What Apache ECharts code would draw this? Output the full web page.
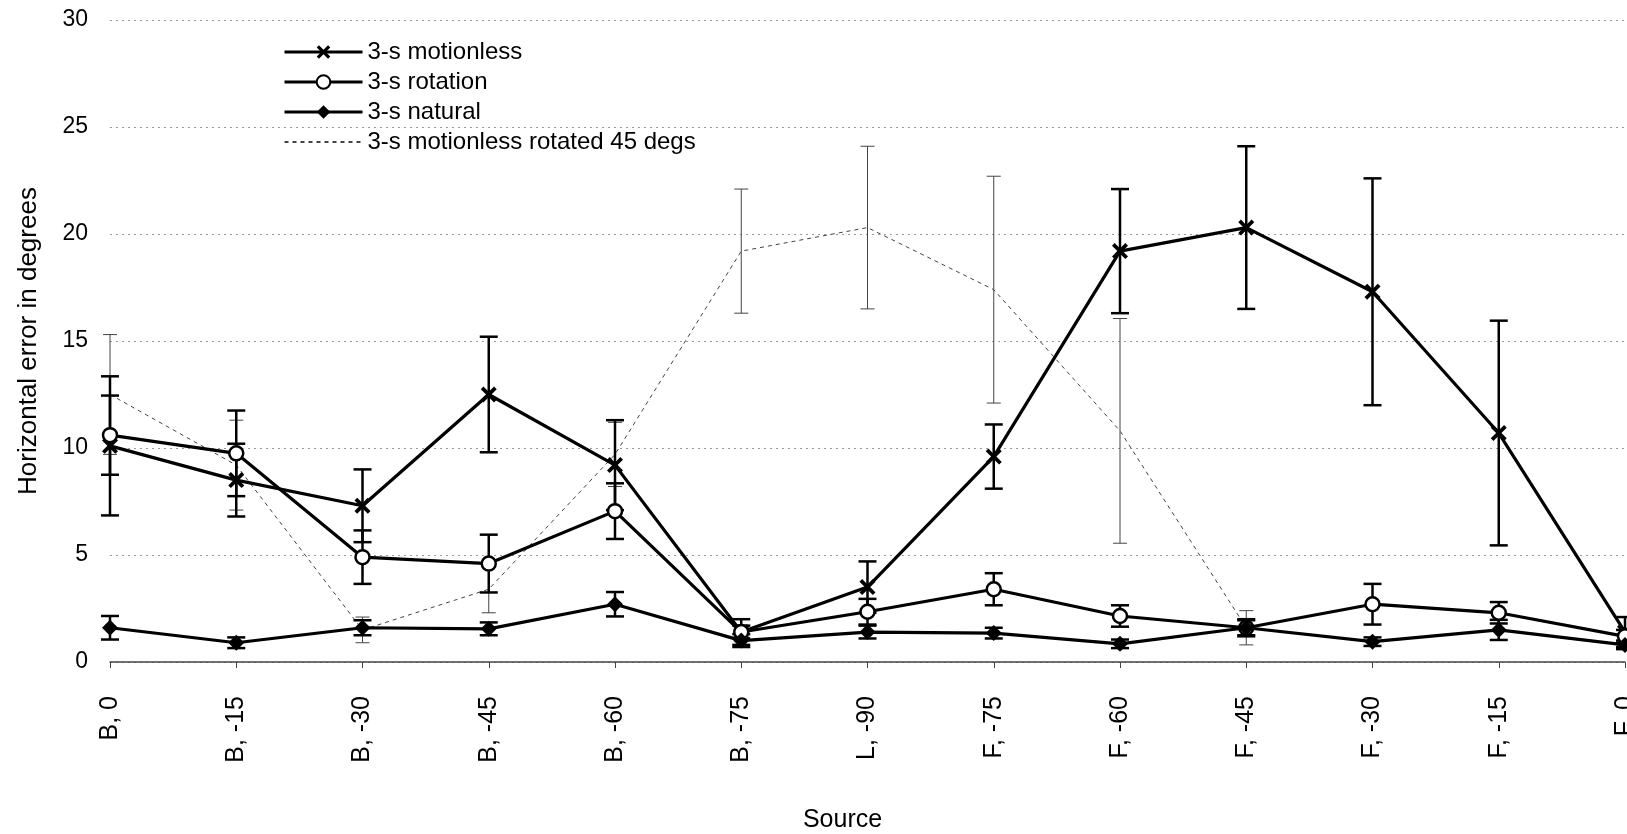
<!DOCTYPE html>
<html>
<head>
<meta charset="utf-8">
<script src="https://cdn.jsdelivr.net/npm/echarts@6/dist/echarts.min.js"></script>
<style>
  html, body { margin: 0; padding: 0; background: #fff; }
  #chart { width: 1627px; height: 834px; }
</style>
</head>
<body>
<div id="chart"></div>
<script>
// Source positions (back, lateral, front) and mean horizontal error per condition
const categories = ['B, 0', 'B, -15', 'B, -30', 'B, -45', 'B, -60', 'B, -75', 'L, -90',
                    'F, -75', 'F, -60', 'F, -45', 'F, -30', 'F, -15', 'F, 0'];

const motionless      = [10.1, 8.5, 7.3, 12.5, 9.2, 1.4, 3.5, 9.6, 19.2, 20.3, 17.3, 10.7, 1.4];
const motionlessErr   = [3.25, 1.7, 1.7, 2.7, 2.1, 0.6, 1.2, 1.5, 2.9, 3.8, 5.3, 5.25, 0.7];

const rotation        = [10.6, 9.75, 4.9, 4.6, 7.05, 1.4, 2.35, 3.4, 2.15, 1.6, 2.7, 2.3, 1.2];
const rotationErr     = [1.85, 2.0, 1.25, 1.35, 1.3, 0.3, 0.6, 0.75, 0.5, 0.4, 0.95, 0.5, 0.3];

const natural         = [1.6, 0.9, 1.6, 1.55, 2.7, 1.0, 1.4, 1.35, 0.85, 1.6, 0.95, 1.5, 0.8];
const naturalErr      = [0.55, 0.25, 0.35, 0.3, 0.57, 0.3, 0.3, 0.25, 0.2, 0.35, 0.2, 0.47, 0.2];

const rotated45       = [12.5, 9.2, 1.5, 3.4, 9.7, 19.2, 20.3, 17.4, 10.8, 1.6, null, null, null];
const rotated45Err    = [2.8, 2.1, 0.6, 1.1, 1.5, 2.9, 3.8, 5.3, 5.25, 0.8, null, null, null];

const yTicks = { min: 0, max: 30, interval: 5 };

const FONT = '"Liberation Sans", Arial, sans-serif';
const X_SYMBOL = 'path://M0,2 L2,0 L6,4 L10,0 L12,2 L8,6 L12,10 L10,12 L6,8 L2,12 L0,10 L4,6 Z';

function errorBars(id, values, errs, lineWidth, color, capHalf) {
  const data = [];
  values.forEach((v, i) => {
    if (v != null && errs[i] != null) data.push([i, v, errs[i]]);
  });
  return {
    id: id,
    type: 'custom',
    z: 3,
    silent: true,
    encode: { x: 0, y: 1 },
    data: data,
    renderItem: function (params, api) {
      const i = api.value(0), v = api.value(1), e = api.value(2);
      const hi = api.coord([i, v + e]);
      const lo = api.coord([i, v - e]);
      const style = { stroke: color, lineWidth: lineWidth };
      return {
        type: 'group',
        children: [
          { type: 'line', shape: { x1: hi[0], y1: hi[1], x2: lo[0], y2: lo[1] }, style: style },
          { type: 'line', shape: { x1: hi[0] - capHalf, y1: hi[1], x2: hi[0] + capHalf, y2: hi[1] }, style: style },
          { type: 'line', shape: { x1: lo[0] - capHalf, y1: lo[1], x2: lo[0] + capHalf, y2: lo[1] }, style: style }
        ]
      };
    }
  };
}

const chart = echarts.init(document.getElementById('chart'), null, { renderer: 'canvas' });

chart.setOption({
  backgroundColor: '#fff',
  animation: false,
  grid: { left: 110, right: 2, top: 20, bottom: 172, containLabel: false, outerBoundsMode: 'none' },
  legend: {
    orient: 'vertical',
    left: 278,
    top: 35,
    itemWidth: 78,
    itemHeight: 17,
    itemGap: 6,
    selectedMode: false,
    textStyle: { fontFamily: FONT, fontSize: 24, color: '#000' },
    data: [
      { name: '3-s motionless', lineStyle: { width: 3 } },
      { name: '3-s rotation', lineStyle: { width: 3 } },
      { name: '3-s natural', lineStyle: { width: 3 } },
      { name: '3-s motionless rotated 45 degs' }
    ]
  },
  xAxis: {
    type: 'category',
    data: categories,
    boundaryGap: false,
    name: 'Source',
    nameLocation: 'middle',
    nameGap: 146,
    nameTextStyle: { fontFamily: FONT, fontSize: 25, color: '#000', padding: [0, 50, 0, 0] },
    axisLine: { show: true, lineStyle: { color: '#444', width: 1.5 } },
    axisTick: { show: true, alignWithLabel: true, length: 6, lineStyle: { color: '#444' } },
    axisLabel: {
      rotate: 90,
      margin: 34,
      interval: 0,
      fontFamily: FONT,
      fontSize: 25,
      color: '#000'
    },
    splitLine: { show: false }
  },
  yAxis: {
    type: 'value',
    min: yTicks.min,
    max: yTicks.max,
    interval: yTicks.interval,
    name: 'Horizontal error in degrees',
    nameLocation: 'middle',
    nameGap: 68,
    nameTextStyle: { fontFamily: FONT, fontSize: 26, color: '#000' },
    axisLine: { show: false },
    axisTick: { show: false },
    axisLabel: { margin: 22, fontFamily: FONT, fontSize: 23, color: '#000' },
    splitLine: { show: true, lineStyle: { color: '#999', width: 1, type: [2, 4] } }
  },
  series: [
    errorBars('err-rot45', rotated45, rotated45Err, 1, '#444', 7),
    errorBars('err-motionless', motionless, motionlessErr, 2.5, '#000', 9),
    errorBars('err-rotation', rotation, rotationErr, 2.5, '#000', 9),
    errorBars('err-natural', natural, naturalErr, 2.5, '#000', 9),
    {
      name: '3-s motionless rotated 45 degs',
      type: 'line',
      data: rotated45,
      connectNulls: false,
      symbol: 'circle',
      showSymbol: false,
      z: 2,
      lineStyle: { color: '#444', width: 1, type: [4, 4] },
      itemStyle: { color: 'rgba(0,0,0,0)' }
    },
    {
      name: '3-s motionless',
      type: 'line',
      data: motionless,
      symbol: X_SYMBOL,
      symbolSize: 16,
      z: 5,
      lineStyle: { color: '#000', width: 3.2 },
      itemStyle: { color: '#000' }
    },
    {
      name: '3-s rotation',
      type: 'line',
      data: rotation,
      symbol: 'circle',
      symbolSize: 14,
      z: 6,
      lineStyle: { color: '#000', width: 3.2 },
      itemStyle: { color: '#fff', borderColor: '#000', borderWidth: 2.5 }
    },
    {
      name: '3-s natural',
      type: 'line',
      data: natural,
      symbol: 'diamond',
      symbolSize: 16,
      z: 7,
      lineStyle: { color: '#000', width: 3.2 },
      itemStyle: { color: '#000' }
    }
  ]
});
</script>
</body>
</html>
